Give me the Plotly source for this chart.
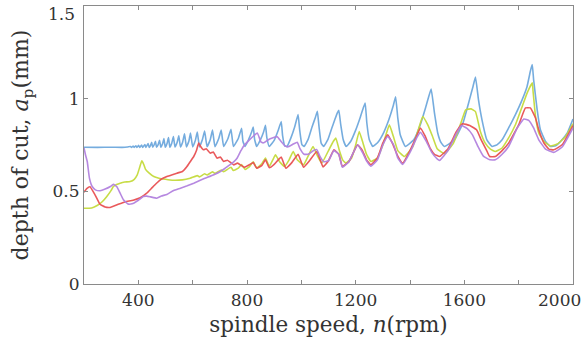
import plotly.graph_objects as go

# ---------------- data (spindle speed in rpm, depth of cut in mm) ----------------
blue_n = [200, 250, 300, 340, 360, 371, 375, 381, 385, 391, 395, 401, 405, 412, 416, 424, 428, 436, 440, 444,
          449, 453, 458, 463, 467, 473, 478, 483, 489, 494, 499, 506, 511, 516, 523, 529, 535, 543, 549, 555, 563,
          570, 577, 586, 592, 600, 610, 617, 625, 636, 644, 653, 665, 673, 682, 696, 705, 714, 730, 741, 750, 768,
          780, 785, 793, 806, 817, 823, 828, 836, 850, 861, 868, 873, 882, 900, 915, 926, 931, 939, 947, 962, 976,
          988, 994, 1002, 1010, 1025, 1040, 1052, 1059, 1065, 1073, 1082, 1098, 1112, 1124, 1133, 1138, 1145, 1154,
          1165, 1182, 1200, 1217, 1228, 1235, 1241, 1250, 1263, 1282, 1304, 1323, 1338, 1347, 1355, 1364, 1383, 1414,
          1438, 1457, 1469, 1478, 1490, 1502, 1515, 1527, 1564, 1595, 1619, 1632, 1641, 1652, 1665, 1683, 1702, 1720,
          1739, 1763, 1788, 1813, 1831, 1843, 1850, 1855, 1868, 1880, 1899, 1917, 1936, 1954, 1979, 2000]
blue_ap = [0.738, 0.737, 0.738, 0.737, 0.739, 0.742, 0.737, 0.744, 0.737, 0.746, 0.737, 0.748, 0.737, 0.750, 0.737,
           0.752, 0.737, 0.758, 0.737, 0.745, 0.765, 0.738, 0.750, 0.770, 0.738, 0.752, 0.775, 0.738, 0.755, 0.785,
           0.738, 0.760, 0.790, 0.738, 0.760, 0.795, 0.739, 0.765, 0.800, 0.739, 0.765, 0.810, 0.740, 0.770, 0.815,
           0.740, 0.775, 0.820, 0.740, 0.780, 0.825, 0.741, 0.780, 0.830, 0.741, 0.785, 0.830, 0.742, 0.785, 0.835,
           0.742, 0.785, 0.840, 0.770, 0.742, 0.780, 0.820, 0.847, 0.780, 0.742, 0.780, 0.820, 0.856, 0.790, 0.742,
           0.775, 0.830, 0.877, 0.800, 0.745, 0.742, 0.790, 0.850, 0.914, 0.830, 0.752, 0.742, 0.780, 0.850, 0.900,
           0.932, 0.850, 0.760, 0.742, 0.780, 0.840, 0.890, 0.925, 0.937, 0.860, 0.780, 0.742, 0.770, 0.830, 0.900,
           0.950, 0.977, 0.870, 0.780, 0.742, 0.765, 0.820, 0.890, 0.960, 1.010, 0.896, 0.805, 0.742, 0.778, 0.859,
           0.950, 1.012, 1.052, 0.923, 0.815, 0.761, 0.742, 0.778, 0.869, 0.995, 1.066, 1.116, 0.995, 0.886, 0.778,
           0.742, 0.751, 0.778, 0.842, 0.914, 0.995, 1.066, 1.148, 1.184, 1.103, 0.941, 0.832, 0.769, 0.742, 0.746,
           0.769, 0.815, 0.890]

yellow_n = [200, 228, 250, 268, 284, 300, 308, 320, 333, 350, 370, 385, 396, 404, 408, 413, 420, 426, 439, 457,
            476, 500, 525, 562, 591, 617, 625, 644, 653, 673, 682, 705, 714, 741, 750, 768, 780, 793, 810, 823, 836,
            855, 868, 882, 895, 905, 920, 938, 955, 970, 985, 1008, 1025, 1043, 1060, 1075, 1100, 1118, 1127, 1140,
            1152, 1164, 1185, 1200, 1213, 1225, 1240, 1256, 1280, 1300, 1324, 1338, 1355, 1379, 1410, 1430, 1447,
            1465, 1482, 1500, 1527, 1560, 1590, 1605, 1625, 1641, 1659, 1677, 1696, 1714, 1739, 1763, 1788, 1813,
            1831, 1850, 1853, 1862, 1874, 1893, 1917, 1942, 1973, 2000]
yellow_ap = [0.409, 0.410, 0.425, 0.445, 0.472, 0.505, 0.526, 0.537, 0.544, 0.550, 0.553, 0.565, 0.589, 0.625,
             0.645, 0.665, 0.645, 0.620, 0.600, 0.580, 0.571, 0.565, 0.560, 0.562, 0.571, 0.585, 0.578, 0.595, 0.588,
             0.605, 0.597, 0.615, 0.606, 0.630, 0.612, 0.625, 0.645, 0.618, 0.635, 0.660, 0.625, 0.650, 0.680, 0.635,
             0.670, 0.697, 0.660, 0.634, 0.670, 0.715, 0.670, 0.643, 0.690, 0.742, 0.690, 0.652, 0.720, 0.770, 0.788,
             0.720, 0.670, 0.652, 0.680, 0.750, 0.823, 0.770, 0.700, 0.661, 0.680, 0.750, 0.859, 0.800, 0.720, 0.688,
             0.740, 0.830, 0.904, 0.860, 0.800, 0.730, 0.703, 0.760, 0.880, 0.940, 0.945, 0.930, 0.823, 0.760, 0.728,
             0.715, 0.734, 0.788, 0.859, 0.958, 1.030, 1.085, 1.040, 0.904, 0.815, 0.769, 0.745, 0.755, 0.796, 0.865]

red_n = [200, 210, 222, 241, 259, 278, 296, 326, 351, 381, 407, 431, 451, 468, 484, 505, 525, 542, 562, 579, 591,
         604, 614, 622, 628, 640, 650, 665, 676, 690, 702, 714, 728, 751, 765, 790, 810, 823, 836, 855, 868, 882,
         900, 915, 926, 943, 965, 988, 1008, 1030, 1057, 1080, 1100, 1120, 1138, 1151, 1175, 1195, 1207, 1225, 1240,
         1256, 1280, 1300, 1318, 1335, 1355, 1373, 1400, 1425, 1438, 1455, 1475, 1490, 1509, 1540, 1570, 1593, 1620,
         1645, 1662, 1681, 1693, 1714, 1739, 1763, 1800, 1825, 1843, 1862, 1874, 1893, 1911, 1929, 1960, 2000]
red_ap = [0.495, 0.515, 0.525, 0.480, 0.430, 0.415, 0.413, 0.430, 0.443, 0.452, 0.465, 0.490, 0.520, 0.545, 0.565,
          0.580, 0.590, 0.598, 0.607, 0.634, 0.660, 0.688, 0.720, 0.760, 0.745, 0.724, 0.730, 0.706, 0.712, 0.679,
          0.685, 0.661, 0.668, 0.643, 0.652, 0.630, 0.645, 0.655, 0.625, 0.640, 0.670, 0.627, 0.645, 0.670, 0.685,
          0.625, 0.655, 0.700, 0.630, 0.665, 0.715, 0.632, 0.665, 0.724, 0.700, 0.634, 0.660, 0.720, 0.751, 0.720,
          0.670, 0.643, 0.680, 0.760, 0.805, 0.760, 0.690, 0.652, 0.720, 0.800, 0.842, 0.800, 0.730, 0.700, 0.688,
          0.730, 0.820, 0.865, 0.855, 0.832, 0.778, 0.724, 0.688, 0.688, 0.720, 0.760, 0.859, 0.950, 0.950, 0.896,
          0.832, 0.760, 0.728, 0.724, 0.751, 0.855]

purple_n = [200, 205, 212, 220, 230, 242, 259, 278, 297, 308, 321, 333, 345, 363, 380, 400, 418, 431, 445, 468,
            485, 505, 530, 555, 580, 604, 628, 653, 678, 702, 720, 739, 752, 764, 776, 788, 807, 825, 838, 852, 862,
            880, 911, 925, 940, 950, 970, 985, 995, 1010, 1025, 1045, 1057, 1068, 1082, 1100, 1120, 1138, 1151, 1175,
            1207, 1225, 1240, 1256, 1280, 1300, 1318, 1340, 1355, 1373, 1400, 1425, 1438, 1460, 1480, 1500, 1509,
            1540, 1570, 1589, 1610, 1630, 1650, 1670, 1694, 1714, 1739, 1763, 1795, 1819, 1837, 1855, 1874, 1899,
            1929, 1960, 2000]
purple_ap = [0.734, 0.700, 0.661, 0.571, 0.526, 0.508, 0.503, 0.512, 0.526, 0.538, 0.525, 0.490, 0.455, 0.431,
             0.434, 0.452, 0.472, 0.474, 0.470, 0.463, 0.475, 0.483, 0.505, 0.517, 0.530, 0.544, 0.560, 0.575, 0.590,
             0.607, 0.625, 0.645, 0.660, 0.680, 0.715, 0.745, 0.775, 0.800, 0.815, 0.765, 0.762, 0.780, 0.795, 0.770,
             0.745, 0.740, 0.755, 0.765, 0.730, 0.700, 0.700, 0.720, 0.725, 0.690, 0.660, 0.665, 0.720, 0.700, 0.630,
             0.660, 0.751, 0.710, 0.665, 0.636, 0.670, 0.750, 0.796, 0.750, 0.680, 0.645, 0.710, 0.790, 0.818, 0.770,
             0.710, 0.675, 0.667, 0.720, 0.810, 0.855, 0.840, 0.805, 0.742, 0.690, 0.670, 0.670, 0.700, 0.742, 0.842,
             0.890, 0.883, 0.842, 0.778, 0.728, 0.710, 0.739, 0.842]

# tick values / labels; the end labels ("2000", "1.5") are nudged inside the figure as in the reference
x_tick_vals = [400, 800, 1200, 1600]
x_tick_text = ["400", "800", "1200", "1600"]
x_minor_vals = [200, 600, 1000, 1400, 1800, 2000]
x_end_val, x_end_text = 2000, "2000"
y_tick_vals = [0, 0.5, 1]
y_tick_text = ["0", "0.5", "1"]
y_minor_vals = [1.5]
y_end_val, y_end_text = 1.5, "1.5"

series = [
    (blue_n, blue_ap, "rgba(110,168,220,0.95)"),
    (yellow_n, yellow_ap, "rgba(196,218,60,0.95)"),
    (red_n, red_ap, "rgba(232,80,82,0.95)"),
    (purple_n, purple_ap, "rgba(178,130,222,0.95)"),
]

fig = go.Figure()
for xs, ys, col in series:
    fig.add_trace(go.Scatter(x=xs, y=ys, mode="lines", line=dict(color=col, width=1.6, shape="spline", smoothing=0.35),
                             showlegend=False, hoverinfo="skip"))

font_family = "DejaVu Serif"
axis_col = "#8a8a8a"
txt_col = "#333333"
fig.update_layout(
    width=582, height=350,
    margin=dict(l=84, r=9, t=6, b=66, autoexpand=False),
    paper_bgcolor="white", plot_bgcolor="white",
    font=dict(family=font_family, size=17, color=txt_col),
    xaxis=dict(range=[200, 2000], tickvals=x_tick_vals, ticktext=x_tick_text, ticks="inside", ticklen=4,
               tickcolor=axis_col, showline=True, linecolor=axis_col, linewidth=1.2, mirror="ticks",
               showgrid=False, zeroline=False, tickfont=dict(size=17), automargin=False,
               minor=dict(tickvals=x_minor_vals, ticks="inside", ticklen=4, tickcolor=axis_col, showgrid=False),
               title=dict(text="spindle speed, <i>n</i>(rpm)", font=dict(size=21.5), standoff=8)),
    yaxis=dict(range=[0, 1.5], tickvals=y_tick_vals, ticktext=y_tick_text, ticks="inside", ticklen=4,
               tickcolor=axis_col, showline=True, linecolor=axis_col, linewidth=1.2, mirror="ticks",
               showgrid=False, zeroline=False, tickfont=dict(size=17), automargin=False,
               minor=dict(tickvals=y_minor_vals, ticks="inside", ticklen=4, tickcolor=axis_col, showgrid=False),
               title=dict(text="depth of cut, <i>a</i><sub>p</sub>(mm)", font=dict(size=22), standoff=17)),
)

fig.add_annotation(x=x_end_val, xref="x", y=0, yref="paper", text=x_end_text, showarrow=False,
                   xanchor="right", yanchor="top", xshift=10, yshift=-4, font=dict(size=17, color=txt_col))
fig.add_annotation(x=0, xref="paper", y=y_end_val, yref="y", text=y_end_text, showarrow=False,
                   xanchor="right", yanchor="top", xshift=-7, yshift=4, font=dict(size=17, color=txt_col))

fig.write_html("out.html")
